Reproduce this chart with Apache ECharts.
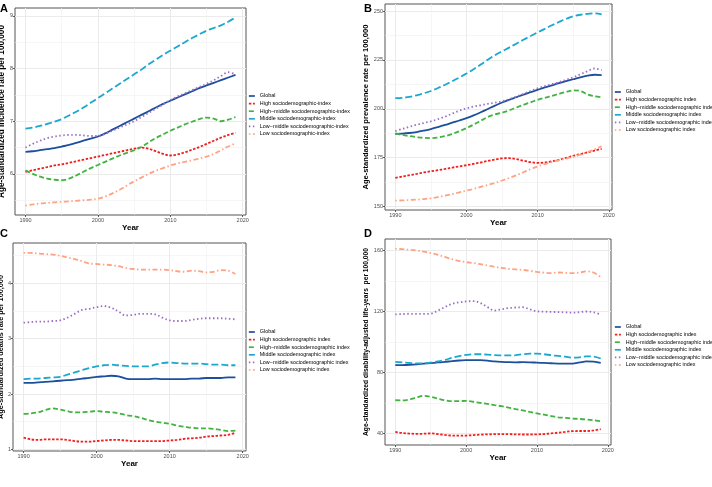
<!DOCTYPE html>
<html><head><meta charset="utf-8">
<script src="https://cdn.jsdelivr.net/npm/echarts@6/dist/echarts.min.js"></script>
<style>html,body{margin:0;padding:0;background:#fff}#c{width:712px;height:487px}</style>
</head><body><div id="c"></div>
<script>
const years = [1990,1991,1992,1993,1994,1995,1996,1997,1998,1999,2000,2001,2002,2003,2004,2005,2006,2007,2008,2009,2010,2011,2012,2013,2014,2015,2016,2017,2018,2019];
const namesA = ['Global','High sociodemographic-index','High\u2212middle sociodemographic-index','Middle sociodemographic-index','Low\u2212middle sociodemographic-index','Low sociodemographic-index'];
const namesB = ['Global','High sociodemographic index','High\u2212middle sociodemographic index','Middle sociodemographic index','Low\u2212middle sociodemographic index','Low sociodemographic index'];

// A: incidence
const incGlobal = [6.42,6.43,6.45,6.47,6.49,6.52,6.55,6.59,6.63,6.67,6.71,6.77,6.84,6.91,6.98,7.05,7.12,7.19,7.26,7.33,7.39,7.45,7.51,7.57,7.63,7.68,7.73,7.78,7.83,7.88];
const incHigh = [6.04,6.07,6.10,6.13,6.16,6.18,6.21,6.24,6.27,6.30,6.33,6.36,6.39,6.42,6.45,6.48,6.50,6.48,6.43,6.38,6.35,6.37,6.41,6.46,6.51,6.57,6.63,6.69,6.74,6.78];
const incHighMid = [6.07,6.00,5.95,5.91,5.89,5.88,5.91,5.97,6.04,6.11,6.17,6.23,6.29,6.35,6.40,6.45,6.51,6.60,6.68,6.75,6.82,6.88,6.94,6.99,7.04,7.07,7.05,7.00,7.03,7.08];
const incMid = [6.86,6.88,6.91,6.95,6.99,7.04,7.11,7.18,7.26,7.35,7.44,7.53,7.62,7.71,7.80,7.89,7.98,8.08,8.17,8.26,8.34,8.42,8.50,8.58,8.65,8.72,8.77,8.82,8.89,8.97];
const incLowMid = [6.50,6.57,6.63,6.68,6.71,6.73,6.74,6.74,6.73,6.72,6.72,6.76,6.82,6.88,6.94,7.00,7.08,7.16,7.24,7.32,7.40,7.47,7.53,7.59,7.65,7.71,7.78,7.86,7.93,7.89];
const incLow = [5.40,5.42,5.44,5.45,5.46,5.47,5.48,5.49,5.50,5.51,5.53,5.57,5.63,5.70,5.78,5.86,5.93,6.00,6.06,6.11,6.16,6.20,6.23,6.26,6.29,6.33,6.38,6.45,6.52,6.58];

// B: prevalence
const prevGlobal = [187.2,187.3,187.6,188.1,188.8,189.6,190.6,191.7,192.9,194.0,195.2,196.6,198.2,199.9,201.6,203.2,204.6,205.9,207.2,208.5,209.7,210.9,212.0,213.1,214.1,215.1,216.1,216.9,217.4,217.2];
const prevHigh = [164.6,165.3,166.0,166.7,167.4,168.0,168.6,169.2,169.9,170.5,171.1,171.8,172.5,173.3,174.0,174.6,174.7,174.2,173.4,172.7,172.3,172.5,173.1,173.9,174.9,175.9,176.8,177.7,178.6,179.5];
const prevHighMid = [187.4,186.6,186.0,185.5,185.1,185.0,185.3,186.0,187.1,188.5,190.1,191.9,193.9,195.8,197.1,198.0,199.2,200.6,202.0,203.3,204.6,205.6,206.6,207.6,208.6,209.4,209.1,207.3,206.4,205.9];
const prevMid = [205.4,205.6,206.1,206.9,207.9,209.1,210.6,212.3,214.1,216.0,218.0,220.2,222.6,225.1,227.4,229.4,231.3,233.3,235.3,237.2,239.1,240.9,242.7,244.4,246.0,247.3,248.1,248.6,248.8,248.3];
const prevLowMid = [188.6,189.7,190.8,191.8,192.7,193.6,194.7,196.0,197.5,199.0,200.2,201.1,201.8,202.5,203.1,203.8,204.9,206.2,207.6,209.1,210.5,211.6,212.6,213.6,214.8,216.1,217.6,219.2,220.6,219.8];
const prevLow = [153.0,153.1,153.3,153.5,153.8,154.2,154.8,155.5,156.3,157.2,158.1,159.0,160.0,161.0,162.1,163.3,164.6,166.0,167.5,169.1,170.5,171.7,172.7,173.6,174.5,175.4,176.5,177.8,179.3,180.8];

// C: deaths
const deathGlobal = [2.20,2.20,2.21,2.22,2.23,2.24,2.25,2.26,2.28,2.29,2.31,2.32,2.33,2.32,2.28,2.27,2.27,2.27,2.28,2.27,2.27,2.27,2.27,2.28,2.28,2.29,2.29,2.29,2.30,2.30];
const deathHigh = [1.21,1.18,1.17,1.18,1.18,1.18,1.17,1.15,1.14,1.14,1.15,1.16,1.17,1.17,1.16,1.15,1.15,1.15,1.15,1.15,1.16,1.17,1.19,1.20,1.21,1.23,1.24,1.25,1.26,1.30];
const deathHighMid = [1.64,1.65,1.67,1.71,1.74,1.72,1.69,1.67,1.67,1.68,1.69,1.68,1.67,1.65,1.62,1.60,1.57,1.53,1.50,1.48,1.46,1.43,1.41,1.39,1.38,1.38,1.37,1.35,1.33,1.34];
const deathMid = [2.27,2.28,2.28,2.29,2.30,2.31,2.35,2.39,2.43,2.47,2.50,2.52,2.53,2.52,2.51,2.50,2.50,2.50,2.53,2.56,2.57,2.56,2.55,2.55,2.55,2.54,2.53,2.53,2.52,2.52];
const deathLowMid = [3.29,3.30,3.31,3.31,3.32,3.33,3.38,3.45,3.52,3.54,3.57,3.59,3.56,3.49,3.42,3.43,3.45,3.45,3.44,3.38,3.33,3.32,3.32,3.34,3.36,3.37,3.37,3.37,3.36,3.35];
const deathLow = [4.55,4.55,4.54,4.53,4.52,4.50,4.47,4.44,4.40,4.36,4.35,4.34,4.33,4.31,4.28,4.26,4.25,4.25,4.25,4.25,4.24,4.22,4.21,4.23,4.22,4.20,4.21,4.24,4.23,4.17];

// D: DALYs
const dalyGlobal = [84.7,84.8,85.0,85.3,85.7,86.1,86.5,86.9,87.4,87.8,88.0,88.1,88.0,87.7,87.2,86.9,86.7,86.6,86.7,86.6,86.4,86.2,86.0,85.8,85.7,85.8,86.5,87.2,87.1,86.2];
const dalyHigh = [40.9,40.2,39.8,39.6,39.7,39.9,39.5,38.9,38.5,38.4,38.5,38.8,39.1,39.3,39.4,39.5,39.4,39.3,39.2,39.2,39.3,39.5,39.9,40.4,40.9,41.4,41.5,41.5,41.9,42.7];
const dalyHighMid = [61.7,61.6,62.2,63.5,64.6,64.0,62.8,61.7,61.1,61.1,61.3,60.7,60.0,59.3,58.5,57.8,56.9,55.9,55.0,54.0,53.1,52.2,51.3,50.5,50.1,49.7,49.4,49.0,48.5,48.0];
const dalyMid = [86.9,86.6,86.2,85.9,86.0,86.4,87.2,88.2,89.5,90.7,91.5,91.9,91.9,91.6,91.3,91.2,91.1,91.3,91.9,92.3,92.3,91.9,91.3,90.8,90.3,89.7,89.9,90.5,90.3,89.1];
const dalyLowMid = [118.1,118.3,118.5,118.4,118.4,118.6,120.5,122.9,125.0,126.0,126.6,126.8,125.6,122.9,120.6,121.4,122.2,122.6,122.8,121.4,120.1,119.9,119.7,119.6,119.4,119.2,119.5,120.0,119.5,117.9];
const dalyLow = [161.2,160.9,160.5,160.0,159.3,158.4,157.2,155.8,154.4,153.2,152.4,151.8,151.1,150.2,149.3,148.6,148.0,147.6,147.3,146.7,146.0,145.5,145.2,145.6,145.4,145.2,145.6,146.3,145.6,142.6];

// ticks
const xTicks = [1990,2000,2010,2020];
const xMinor = [1995,2005,2015];
const incTicks = [6,7,8,9];
const incMinor = [5.5,6.5,7.5,8.5];
const prevTicks = [150,175,200,225,250];
const prevMinor = [162.5,187.5,212.5,237.5];
const deathTicks = [1,2,3,4];
const deathMinor = [1.5,2.5,3.5,4.5];
const dalyTicks = [40,80,120,160];
const dalyMinor = [60,100,140];

const FONT = 'Liberation Sans, Arial, Helvetica, sans-serif';
const colors = ['#1c4f9c','#f21d1d','#41b340','#1ba7cf','#9b6dc6','#ffa283'];
const dashes = ['solid',[2.5,1.6],[5,2.5],[7,3],[1.5,2.5],[1.5,2.5,5,2.5]];

const panels = [
  {letter:'A', lx:0, ly:3, grid:{left:15,top:8,width:231,height:207}, ymin:5.22, ymax:9.15, yTicks:incTicks, yMinor:incMinor,
   yName:'Age-standardized incidence rate per 100,000', yFs:8.2, yGap:7, xGap:8, names:namesA,
   data:[incGlobal,incHigh,incHighMid,incMid,incLowMid,incLow], legend:{left:248,top:93}},
  {letter:'B', lx:364, ly:3, grid:{left:385,top:4,width:227,height:206}, ymin:148.2, ymax:253.6, yTicks:prevTicks, yMinor:prevMinor,
   yName:'Age-standardized prevalence rate per 100,000', yFs:7.6, yGap:9, xGap:8, names:namesB,
   data:[prevGlobal,prevHigh,prevHighMid,prevMid,prevLowMid,prevLow], legend:{left:614,top:89}},
  {letter:'C', lx:0, ly:228, grid:{left:13,top:243,width:233,height:208}, ymin:0.97, ymax:4.73, yTicks:deathTicks, yMinor:deathMinor,
   yName:'Age-standardized deaths rate per 100,000', yFs:7.3, yGap:5, xGap:7, names:namesB,
   data:[deathGlobal,deathHigh,deathHighMid,deathMid,deathLowMid,deathLow], legend:{left:248,top:329}},
  {letter:'D', lx:364, ly:228, grid:{left:385,top:239,width:226,height:206}, ymin:32.3, ymax:167.6, yTicks:dalyTicks, yMinor:dalyMinor,
   yName:'Age-standardized disability-adjusted life-years  per 100,000', yFs:6.7, yGap:10, xGap:8, names:namesB,
   data:[dalyGlobal,dalyHigh,dalyHighMid,dalyMid,dalyLowMid,dalyLow], legend:{left:614,top:324}}
];

const fmt = v => String(Math.round(v * 100) / 100);
const grid=[], xAxis=[], yAxis=[], series=[], legend=[], graphic=[];
panels.forEach((p,i)=>{
  grid.push(Object.assign({show:true, borderColor:'#555', borderWidth:1, backgroundColor:'#fff', containLabel:false, outerBoundsMode:'none'}, p.grid));
  xAxis.push({type:'value', gridIndex:i, min:1988.55, max:2020.45, position:'bottom',
    axisLine:{show:false}, axisTick:{show:true, customValues:xTicks, length:2, lineStyle:{color:'#333', width:0.8}},
    axisLabel:{customValues:xTicks, formatter:fmt, fontSize:5.5, color:'#4d4d4d', margin:2, fontFamily:FONT, showMinLabel:true, showMaxLabel:true},
    splitLine:{show:true, lineStyle:{color:'#ebebeb', width:1}},
    name:'Year', nameLocation:'middle', nameGap:p.xGap, nameTextStyle:{fontSize:8, fontWeight:'bold', color:'#000', fontFamily:FONT}});
  xAxis.push({type:'value', gridIndex:i, min:1988.55, max:2020.45, position:'top',
    axisLine:{show:false}, axisTick:{show:false, customValues:xMinor}, axisLabel:{show:false, customValues:xMinor},
    splitLine:{show:true, lineStyle:{color:'#f0f0f0', width:0.6}}});
  yAxis.push({type:'value', gridIndex:i, min:p.ymin, max:p.ymax, position:'left',
    axisLine:{show:false}, axisTick:{show:true, customValues:p.yTicks, length:2, lineStyle:{color:'#333', width:0.8}},
    axisLabel:{customValues:p.yTicks, formatter:fmt, fontSize:5.5, color:'#4d4d4d', margin:2, fontFamily:FONT, showMinLabel:true, showMaxLabel:true},
    splitLine:{show:true, lineStyle:{color:'#ebebeb', width:1}},
    name:p.yName, nameLocation:'middle', nameGap:p.yGap, nameRotate:90,
    nameTextStyle:{fontSize:p.yFs, fontWeight:'bold', color:'#000', fontFamily:FONT}});
  yAxis.push({type:'value', gridIndex:i, min:p.ymin, max:p.ymax, position:'right',
    axisLine:{show:false}, axisTick:{show:false, customValues:p.yMinor}, axisLabel:{show:false, customValues:p.yMinor},
    splitLine:{show:true, lineStyle:{color:'#f0f0f0', width:0.6}}});
  p.data.forEach((arr,k)=>{
    series.push({type:'line', name:p.names[k], xAxisIndex:2*i, yAxisIndex:2*i,
      data: years.map((y,j)=>[y, arr[j]]), symbol:'circle', showSymbol:false, smooth:0.35, animation:false,
      lineStyle:{color:colors[k], width:1.8, type:dashes[k], cap:'butt'}, itemStyle:{color:colors[k]},
      z: 3 + k});
  });
  legend.push({orient:'vertical', left:p.legend.left, top:p.legend.top, itemWidth:6, itemHeight:5, itemGap:1.6,
    selectedMode:false, data:p.names, padding:0,
    itemStyle:{color:'rgba(0,0,0,0)', borderColor:'rgba(0,0,0,0)', borderWidth:0, opacity:0},
    lineStyle:{width:1.7},
    textStyle:{fontSize:5.4, color:'#000', fontFamily:FONT, lineHeight:6}});
  graphic.push({type:'text', left:p.lx, top:p.ly, style:{text:p.letter, font:'bold 11px '+FONT, fill:'#000'}});
});

const chart = echarts.init(document.getElementById('c'), null, {renderer:'canvas'});
chart.setOption({animation:false, backgroundColor:'#fff', grid, xAxis, yAxis, series, legend, graphic});
</script></body></html>
